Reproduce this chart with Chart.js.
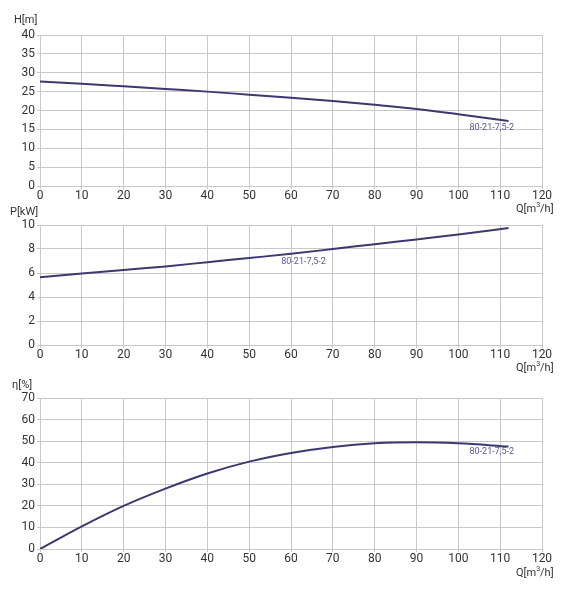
<!DOCTYPE html>
<html><head><meta charset="utf-8">
<script src="https://cdn.jsdelivr.net/npm/chart.js@4"></script>
<style>
body{margin:0;width:566px;height:608px;background:#fff;position:relative;overflow:hidden;font-family:Roboto,sans-serif}
canvas{position:absolute;left:0}
.lb{position:absolute;font-size:11px;color:#333}
</style></head><body>
<canvas id="c1" style="top:0"></canvas>
<canvas id="c2" style="top:200px"></canvas>
<canvas id="c3" style="top:360px"></canvas>
<div class="lb" style="left:14px;top:13px">H[m]</div>
<div class="lb" style="left:516px;top:201px">Q[m<sup style="font-size:7px">3</sup>/h]</div>
<div class="lb" style="left:10px;top:205px">P[kW]</div>
<div class="lb" style="left:516px;top:360px">Q[m<sup style="font-size:7px">3</sup>/h]</div>
<div class="lb" style="left:12px;top:378px">η[%]</div>
<div class="lb" style="left:516px;top:565px">Q[m<sup style="font-size:7px">3</sup>/h]</div>
<script>
const Q=[0,10,20,30,40,50,60,70,80,90,100,112];
const H=[27.7,27.1,26.4,25.7,25.0,24.2,23.4,22.5,21.5,20.4,19.0,17.2];
const P=[5.65,5.95,6.25,6.55,6.9,7.25,7.6,8.0,8.4,8.8,9.2,9.75];
const ETA=[0,10.5,20,28,35,40.5,44.5,47.3,49,49.5,49,47.5];
const NAME='80-21-7,5-2';
function mk(id,h,padTop,vals,ymax,ystep,lx,ly){
  const cv=document.getElementById(id);cv.width=566;cv.height=h;cv.style.width='566px';cv.style.height=h+'px';
  new Chart(cv,{type:'line',
    data:{datasets:[{data:Q.map((q,i)=>({x:q,y:vals[i]})),borderColor:'#3b3872',borderWidth:2,pointRadius:0,tension:0.4,cubicInterpolationMode:'monotone'}]},
    options:{responsive:false,animation:false,devicePixelRatio:1,
      layout:{padding:{top:padTop,right:24,left:0,bottom:0}},
      plugins:{legend:{display:false},tooltip:{enabled:false}},
      scales:{
        x:{type:'linear',min:0,max:120,ticks:{stepSize:10,color:'#333',font:{family:'Roboto',size:12},padding:0,maxRotation:0},
           grid:{color:'#c8c8c8',tickLength:3},border:{color:'#c8c8c8'},afterFit:s=>{s.height=14}},
        y:{min:0,max:ymax,ticks:{stepSize:ystep,color:'#333',font:{family:'Roboto',size:12},padding:2},
           grid:{color:'#c8c8c8',tickLength:3},border:{color:'#c8c8c8'},afterFit:s=>{s.width=40}}
      }},
    plugins:[{id:'lbl',afterDatasetsDraw(c){const x=c.scales.x.getPixelForValue(lx),y=c.scales.y.getPixelForValue(ly);
      const g=c.ctx;g.save();g.font='9px Roboto';g.fillStyle='#5b5891';g.textAlign='center';g.textBaseline='middle';g.fillText(NAME,x,y);g.restore();}}]
  });
}
mk('c1',200,35,H,40,5,108,15.4);
mk('c2',159,25,P,10,2,63,6.9);
mk('c3',203,38,ETA,70,10,108,45);
</script></body></html>
